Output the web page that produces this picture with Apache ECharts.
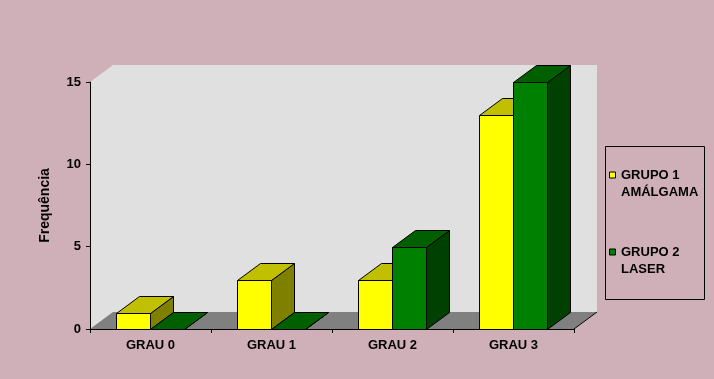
<!DOCTYPE html>
<html><head><meta charset="utf-8">
<script src="https://cdn.jsdelivr.net/npm/echarts@6/dist/echarts.min.js"></script>
<style>html,body{margin:0;padding:0;background:#d0b0b8}#c{width:714px;height:379px}</style>
</head><body><div id="c"></div>
<script>
const categories = ['GRAU 0', 'GRAU 1', 'GRAU 2', 'GRAU 3'];
const grupo1 = [1, 3, 3, 13];
const grupo2 = [0, 0, 5, 15];
const seriesNames = ['GRUPO 1\nAMÁLGAMA', 'GRUPO 2\nLASER'];
const yMin = 0, yMax = 15, yStep = 5;
const yTitle = 'Frequência';

const DX = 23, DY = -17, BW = 34;
const FONT = '"Liberation Sans", Arial, sans-serif';
const palette = [
  {front: '#ffff00', top: '#c0c000', side: '#808000'},
  {front: '#008000', top: '#006000', side: '#004000'}
];
const px = v => Math.round(v) + 0.5;

function barRender(si) {
  return function (params, api) {
    const i = api.value(0), v = api.value(1);
    const t = api.coord([i, v]);
    const b = api.coord([i, 0]);
    const x0 = px(b[0] - BW - 0.5 + si * BW);
    const x1 = x0 + BW;
    const yT = px(t[1]), yB = px(b[1]);
    const c = palette[si];
    const st = {stroke: '#000', lineWidth: 1};
    return {type: 'group', children: [
      {type: 'polygon', shape: {points: [[x1, yT], [x1, yB], [x1 + DX, yB + DY], [x1 + DX, yT + DY]]},
        style: Object.assign({fill: c.side}, st)},
      {type: 'polygon', shape: {points: [[x0, yT], [x1, yT], [x1 + DX, yT + DY], [x0 + DX, yT + DY]]},
        style: Object.assign({fill: c.top}, st)},
      {type: 'rect', shape: {x: x0, y: yT, width: BW, height: yB - yT},
        style: Object.assign({fill: c.front}, st)}
    ]};
  };
}

function wallRender(params, api) {
  const cs = params.coordSys;
  const L = cs.x, T = cs.y, R = cs.x + cs.width, B = cs.y + cs.height;
  return {type: 'group', children: [
    {type: 'polygon', shape: {points: [[L, T], [L + DX, T + DY], [R + DX, T + DY], [R + DX, B + DY], [R, B], [L, B]]},
      style: {fill: '#e0e0e0'}},
    {type: 'polygon', shape: {points: [[L, B], [L + DX, B + DY], [R + DX, B + DY], [R, B]]},
      style: {fill: '#808080'}},
    {type: 'line', shape: {x1: R, y1: B, x2: R + DX, y2: B + DY}, style: {stroke: '#000', lineWidth: 1}}
  ]};
}

const legendGraphics = [{type: 'rect', shape: {x: 605.5, y: 146.5, width: 99, height: 153},
  style: {fill: 'none', stroke: '#000', lineWidth: 1}}];
seriesNames.forEach((n, k) => {
  const cy = 175 + k * 77;
  legendGraphics.push({type: 'rect', shape: {x: 609.5, y: cy - 3, width: 6, height: 6},
    style: {fill: palette[k].front, stroke: '#000', lineWidth: 1}});
  legendGraphics.push({type: 'text', x: 621, y: cy - 8.5, style: {text: n, fill: '#000',
    font: 'bold 13px ' + FONT, lineHeight: 17.5, verticalAlign: 'top', align: 'left'}});
});

const chart = echarts.init(document.getElementById('c'), null, {renderer: 'canvas'});
chart.setOption({
  backgroundColor: '#d0b0b8',
  animation: false,
  grid: {left: 90, top: 82, width: 484, height: 247, containLabel: false},
  xAxis: {type: 'category', data: categories, boundaryGap: true, z: 10,
    axisLine: {lineStyle: {color: '#000', width: 1}},
    axisTick: {show: true, length: 4, lineStyle: {color: '#000'}},
    axisLabel: {color: '#000', fontWeight: 'bold', fontSize: 13, fontFamily: FONT, margin: 10},
    splitLine: {show: false}},
  yAxis: {type: 'value', min: yMin, max: yMax, interval: yStep, z: 10,
    name: yTitle, nameLocation: 'middle', nameGap: 38, nameRotate: 90,
    nameTextStyle: {color: '#000', fontWeight: 'bold', fontSize: 14, fontFamily: FONT},
    axisLine: {show: true, lineStyle: {color: '#000', width: 1}},
    axisTick: {show: true, length: 4, lineStyle: {color: '#000'}},
    axisLabel: {color: '#000', fontWeight: 'bold', fontSize: 13, fontFamily: FONT, margin: 9},
    splitLine: {show: false}},
  graphic: legendGraphics,
  series: [
    {type: 'custom', name: 'wall', renderItem: wallRender, data: [[0, 0]], z: 1, silent: true},
    {type: 'custom', name: seriesNames[0], renderItem: barRender(0), z: 2,
      data: grupo1.map((v, i) => [i, v])},
    {type: 'custom', name: seriesNames[1], renderItem: barRender(1), z: 3,
      data: grupo2.map((v, i) => [i, v])}
  ]
});
</script></body></html>
